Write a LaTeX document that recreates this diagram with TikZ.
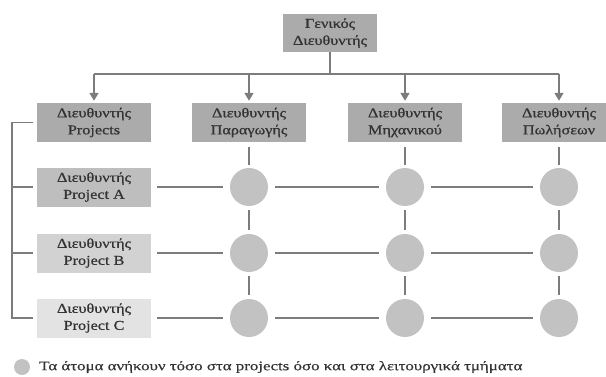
\documentclass[tikz,border=0pt]{standalone}
\usepackage{fontspec}
\setmainfont{Liberation Serif}
\newfontfamily\boxfont[FakeStretch=1.2,FakeBold=0.8]{Liberation Serif}
\newfontfamily\keyfont[FakeStretch=1.3,FakeBold=0.4]{Liberation Serif}
\usetikzlibrary{calc,arrows.meta}

\definecolor{boxdark}{HTML}{ABABAB}
\definecolor{boxA}{HTML}{BEBEBE}
\definecolor{boxB}{HTML}{D2D2D2}
\definecolor{boxC}{HTML}{E3E3E3}
\definecolor{member}{HTML}{C2C2C2}
\definecolor{wire}{HTML}{7C7C7C}
\definecolor{ink}{HTML}{333333}

\tikzset{
  mgr/.style={fill=#1, draw=none, minimum width=114pt, minimum height=39pt,
    inner sep=0pt, align=center, text=ink,
    font=\boxfont\fontsize{13.5}{17}\selectfont},
  person/.style={circle, fill=member, draw=none, minimum size=38pt, inner sep=0pt},
  wireline/.style={draw=wire, line width=1.5pt},
  down/.style={wireline, -{Triangle[length=8pt,width=9pt]}},
}

\begin{document}
\begin{tikzpicture}[x=1pt,y=-1pt]
  \useasboundingbox (0,0) rectangle (606,376);

  % general manager
  \node[mgr=boxdark, minimum width=94pt, minimum height=38pt] (gm) at (330,33)
    {Γενικός\\Διευθυντής};

  % functional and project managers
  \node[mgr=boxdark] (pm)   at (94,122.5)  {Διευθυντής\\Projects};
  \node[mgr=boxdark] (prod) at (249,122.5) {Διευθυντής\\Παραγωγής};
  \node[mgr=boxdark] (eng)  at (405,122.5) {Διευθυντής\\Μηχανικού};
  \node[mgr=boxdark] (sal)  at (559,122.5) {Διευθυντής\\Πωλήσεων};

  \node[mgr=boxA] (pa) at (94,187) {Διευθυντής\\Project A};
  \node[mgr=boxB] (pb) at (94,253) {Διευθυντής\\Project B};
  \node[mgr=boxC] (pc) at (94,318) {Διευθυντής\\Project C};

  % people shared by projects and departments
  \foreach \r/\y in {a/187,b/253,c/318}{
    \node[person] (\r1) at (249,\y) {};
    \node[person] (\r2) at (405,\y) {};
    \node[person] (\r3) at (559,\y) {};
  }

  % reporting lines from the general manager
  \coordinate (bus) at (330,74);
  \draw[wireline] (gm.south) -- (bus);
  \draw[wireline] (pm.north |- bus) -- (sal.north |- bus);
  \foreach \n in {pm,prod,eng,sal}
    \draw[down] (\n.north |- bus) -- ($(\n.north)+(0,-2)$);

  % project manager bracket
  \coordinate (rail) at (12,0);
  \draw[wireline] ($(pm.west)+(-4,0)$) -- (pm.west -| rail) -- (pc.west -| rail)
    -- ($(pc.west)+(-4,0)$);
  \foreach \n in {pa,pb}
    \draw[wireline] (\n.west -| rail) -- ($(\n.west)+(-4,0)$);

  % project rows
  \foreach \r/\p in {a/pa,b/pb,c/pc}{
    \draw[wireline, shorten <=6pt, shorten >=7pt] (\p.east) -- (\r1.west);
    \draw[wireline, shorten <=7pt, shorten >=7pt] (\r1.east) -- (\r2.west);
    \draw[wireline, shorten <=7pt, shorten >=7pt] (\r2.east) -- (\r3.west);
  }

  % department columns
  \foreach \d/\c in {prod/1,eng/2,sal/3}{
    \draw[wireline, shorten <=5pt, shorten >=3pt] (\d.south) -- (a\c.north);
    \draw[wireline, shorten <=4pt, shorten >=4pt] (a\c.south) -- (b\c.north);
    \draw[wireline, shorten <=4pt, shorten >=4pt] (b\c.south) -- (c\c.north);
  }

  % legend
  \node[person, minimum size=16pt] (key) at (22,367) {};
  \node[anchor=west, inner sep=0pt, text=ink, font=\keyfont\fontsize{13}{15}\selectfont]
    (keytext) at (39,367)
    {Τα άτομα ανήκουν τόσο στα projects όσο και στα λειτουργικά τμήματα};
\end{tikzpicture}
\end{document}
